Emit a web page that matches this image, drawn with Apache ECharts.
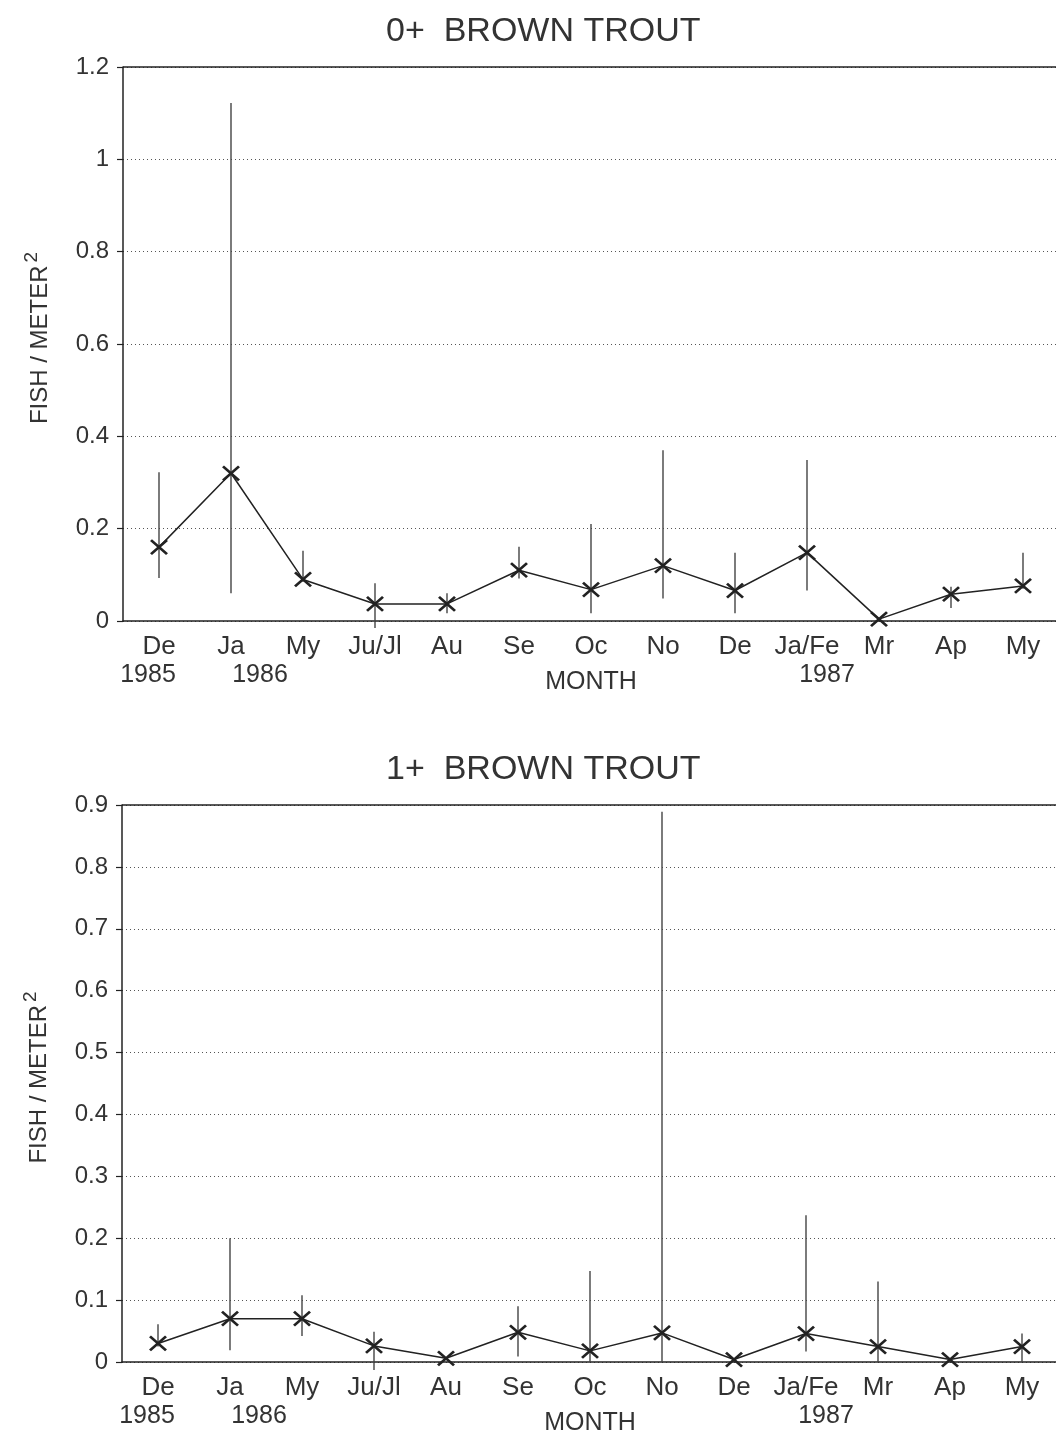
<!DOCTYPE html>
<html>
<head>
<meta charset="utf-8">
<title>Brown trout density</title>
<script src="https://cdn.jsdelivr.net/npm/echarts@6/dist/echarts.min.js"></script>
<style>
  html, body { margin: 0; padding: 0; background: #fff; }
  #chart { width: 1056px; height: 1436px; }
</style>
</head>
<body>
<div id="chart"></div>
<script>
// Sampling months (Dec 1985 – May 1987)
const months = ['De', 'Ja', 'My', 'Ju/Jl', 'Au', 'Se', 'Oc', 'No', 'De', 'Ja/Fe', 'Mr', 'Ap', 'My'];
const years  = ['1985', '1986', '', '', '', '', '', '', '', '1987', '', '', ''];

// 0+ brown trout: mean density and interval bounds (fish / m²)
const youngMean = [0.16, 0.32, 0.09, 0.037, 0.037, 0.11, 0.068, 0.12, 0.066, 0.148, 0.004, 0.058, 0.076];
const youngLow  = [0.093, 0.06, 0.085, -0.015, 0.017, 0.092, 0.017, 0.049, 0.017, 0.066, null, 0.028, 0.07];
const youngHigh = [0.322, 1.122, 0.152, 0.082, 0.06, 0.161, 0.21, 0.37, 0.148, 0.349, null, 0.074, 0.148];

// 1+ brown trout: mean density and interval bounds (fish / m²)
const olderMean = [0.030, 0.070, 0.070, 0.026, 0.006, 0.048, 0.018, 0.047, 0.004, 0.046, 0.025, 0.004, 0.025];
const olderLow  = [0.025, 0.019, 0.042, -0.013, null, 0.009, 0, 0, null, 0.017, 0, null, 0];
const olderHigh = [0.061, 0.2, 0.108, 0.049, null, 0.09, 0.147, 0.889, null, 0.237, 0.13, null, 0.046];

// y-axis ranges
const youngAxis = { min: 0, max: 1.2, interval: 0.2 };
const olderAxis = { min: 0, max: 0.9, interval: 0.1 };

const FONT = '"Liberation Sans", Arial, Helvetica, sans-serif';
const INK = '#222';
const TEXT = '#333';
const xMark = 'path://M0,0L10,10M10,0L0,10';

// shift of the year caption relative to its month label
const yearShift = { '1985': [0, 22, 0, 0], '1986': [0, 0, 0, 58], '1987': [0, 0, 0, 40] };

function xAxisFor(gridIndex) {
  const yr = function (y) {
    return { fontFamily: FONT, fontSize: 25, color: TEXT, lineHeight: 28, padding: yearShift[y] };
  };
  return {
    type: 'category', gridIndex: gridIndex, data: months, boundaryGap: true,
    name: 'MONTH', nameLocation: 'middle', nameGap: 49, nameMoveOverlap: false,
    nameTextStyle: { fontFamily: FONT, fontSize: 25, color: TEXT },
    axisLine: { lineStyle: { color: INK, width: 1.5 } },
    axisTick: { alignWithLabel: true, length: 6, lineStyle: { color: INK, width: 1.2 } },
    axisLabel: {
      interval: 0, margin: 12, fontFamily: FONT, fontSize: 26, color: TEXT, lineHeight: 28,
      formatter: function (v, i) {
        const y = years[i];
        return y ? v + '\n{y' + y + '|' + y + '}' : v;
      },
      rich: { y1985: yr('1985'), y1986: yr('1986'), y1987: yr('1987') }
    },
    splitLine: { show: false }
  };
}

function yAxisFor(gridIndex, range) {
  return {
    type: 'value', gridIndex: gridIndex, min: range.min, max: range.max, interval: range.interval,
    name: 'FISH / METER{sup|2}', nameLocation: 'middle', nameGap: 64, nameMoveOverlap: false,
    nameTextStyle: {
      fontFamily: FONT, fontSize: 24, color: TEXT, padding: [0, 0, 0, 12],
      rich: { sup: { fontFamily: FONT, fontSize: 19, color: TEXT, verticalAlign: 'top', padding: [0, 0, 18, 3] } }
    },
    axisLine: { show: true, lineStyle: { color: INK, width: 1.5 } },
    axisTick: { show: true, length: 6, lineStyle: { color: INK, width: 1.2 } },
    axisLabel: { margin: 14, fontFamily: FONT, fontSize: 24, color: TEXT },
    splitLine: { show: true, lineStyle: { color: '#555', width: 1, type: [1, 3] } }
  };
}

function errorSeries(idx, low, high) {
  const data = [];
  low.forEach(function (l, i) { if (l !== null && high[i] !== null) data.push([i, l, high[i]]); });
  return {
    type: 'custom', xAxisIndex: idx, yAxisIndex: idx, silent: true, clip: false, z: 2,
    data: data,
    encode: { x: 0, y: [1, 2] },
    renderItem: function (params, api) {
      const a = api.coord([api.value(0), api.value(1)]);
      const b = api.coord([api.value(0), api.value(2)]);
      return {
        type: 'line',
        shape: { x1: a[0], y1: a[1], x2: b[0], y2: b[1] },
        style: { stroke: '#444', lineWidth: 1.4 }
      };
    }
  };
}

// mean line with X markers; the solid frame line at the top of the value range
function meanSeries(idx, values, range) {
  return {
    type: 'line', xAxisIndex: idx, yAxisIndex: idx, data: values, z: 3,
    symbol: xMark, symbolSize: [16, 14], showSymbol: true, animation: false,
    lineStyle: { color: INK, width: 1.5 },
    itemStyle: { color: INK, borderColor: INK, borderWidth: 2.6 },
    markLine: {
      silent: true, symbol: 'none', label: { show: false },
      lineStyle: { color: INK, width: 1.5, type: 'solid' },
      data: [{ yAxis: range.max }]
    }
  };
}

const gridBase = { show: false, outerBoundsMode: 'none', containLabel: false };

const chart = echarts.init(document.getElementById('chart'), null, { renderer: 'canvas' });
chart.setOption({
  animation: false,
  backgroundColor: '#fff',
  title: [
    { text: '0+  BROWN TROUT', left: 381, top: 10,
      textStyle: { fontFamily: FONT, fontSize: 34, fontWeight: 'normal', color: TEXT } },
    { text: '1+  BROWN TROUT', left: 381, top: 748,
      textStyle: { fontFamily: FONT, fontSize: 34, fontWeight: 'normal', color: TEXT } }
  ],
  grid: [
    Object.assign({ left: 123, width: 936, top: 67, height: 554 }, gridBase),
    Object.assign({ left: 122, width: 936, top: 805, height: 557 }, gridBase)
  ],
  xAxis: [xAxisFor(0), xAxisFor(1)],
  yAxis: [yAxisFor(0, youngAxis), yAxisFor(1, olderAxis)],
  series: [
    errorSeries(0, youngLow, youngHigh),
    meanSeries(0, youngMean, youngAxis),
    errorSeries(1, olderLow, olderHigh),
    meanSeries(1, olderMean, olderAxis)
  ]
});
</script>
</body>
</html>
